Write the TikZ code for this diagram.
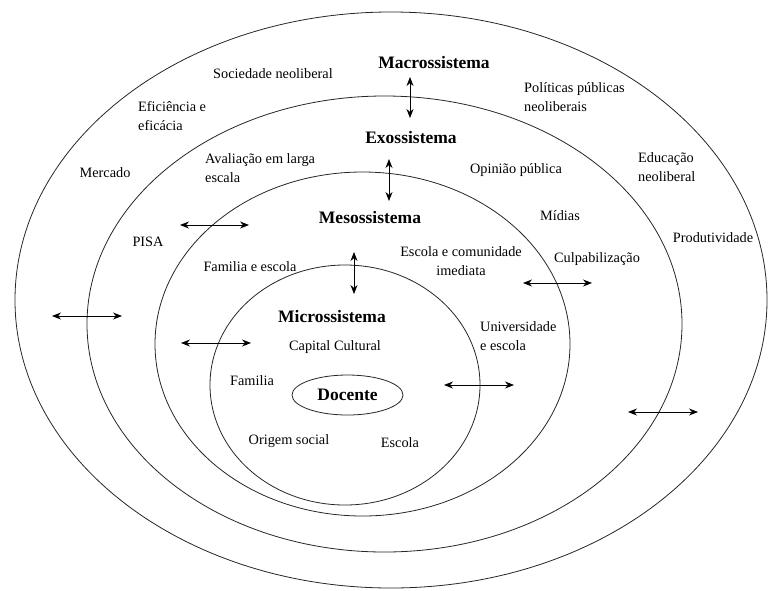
\documentclass[tikz,border=0pt]{standalone}
\usepackage{fontspec}
\setmainfont{Liberation Serif}
\usetikzlibrary{arrows.meta}
\usetikzlibrary{shapes.geometric}
\tikzset{
    item/.style = {align=left, inner sep=0pt, font=\fontsize{14.3}{19}\selectfont},
    item_c/.style = {item, align=center},
    sys_label/.style = {inner sep=0pt, font=\fontsize{17.5}{20}\selectfont\bfseries},
    ring/.style = {draw=black!85, line width=0.8pt},
    core/.style = {sys_label, ellipse, draw=black!85, line width=0.8pt, minimum width=111pt, minimum height=40pt},
    link/.style = {<->, line width=0.8pt}
}
\begin{document}
\begin{tikzpicture}[x=1pt, y=-1pt, >={Stealth[length=9pt,width=7pt]}]
    \useasboundingbox (0,0) rectangle (768,590);
    % levels
    \draw[ring] (391,300) ellipse [x radius=376pt, y radius=288pt];
    \draw[ring] (384.5,324) ellipse [x radius=297.5pt, y radius=228pt];
    \draw[ring] (362.5,344) ellipse [x radius=207.5pt, y radius=172pt];
    \draw[ring] (345,385) ellipse [x radius=135pt, y radius=120pt];
    \node (docente) [core] at (347.5,395) {Docente};
    % system names
    \node (macro) [sys_label] at (434,63) {Macrossistema};
    \node (exo) [sys_label] at (411,138) {Exossistema};
    \node (meso) [sys_label] at (370,218) {Mesossistema};
    \node (micro) [sys_label] at (332,317) {Microssistema};
    % macrossistema
    \node (sociedade) [item] at (273,74) {Sociedade neoliberal};
    \node (eficiencia) [item, anchor=west] at (138,116.5) {Eficiência e\\eficácia};
    \node (politicas) [item, anchor=west] at (524,97.5) {Políticas públicas\\neoliberais};
    \node (mercado) [item] at (105,173) {Mercado};
    \node (educacao) [item, anchor=west] at (638,167.5) {Educação\\neoliberal};
    \node (produtividade) [item] at (713,238) {Produtividade};
    % exossistema
    \node (avaliacao) [item, anchor=west] at (205,168.5) {Avaliação em larga\\escala};
    \node (opiniao) [item] at (516,170) {Opinião pública};
    \node (midias) [item] at (560,216) {Mídias};
    \node (pisa) [item] at (148,242) {PISA};
    \node (culpa) [item] at (597,259) {Culpabilização};
    % mesossistema
    \node (fam_escola) [item] at (250,267) {Familia e escola};
    \node (comunidade) [item_c] at (461,261.5) {Escola e comunidade\\imediata};
    \node (universidade) [item, anchor=west] at (480,336.5) {Universidade\\e escola};
    % microssistema
    \node (capital) [item] at (335,347) {Capital Cultural};
    \node (familia) [item] at (252,381) {Familia};
    \node (origem) [item] at (289,441) {Origem social};
    \node (escola) [item] at (400,443) {Escola};
    % double arrows
    \foreach \n/\xa/\ya/\xb/\yb in {v1/410/77/410/118, v2/389/159/389/201, v3/354/252/354/294,
            h1/180/225/249/225, h2/52/316/122/316, h3/181/343/251/343,
            h4/523/283/592/283, h5/444/385/514/385, h6/628/412/698/412}{
        \coordinate (\n_a) at (\xa,\ya);
        \coordinate (\n_b) at (\xb,\yb);
        \draw[link] (\n_a) -- (\n_b);
    }
\end{tikzpicture}
\end{document}
